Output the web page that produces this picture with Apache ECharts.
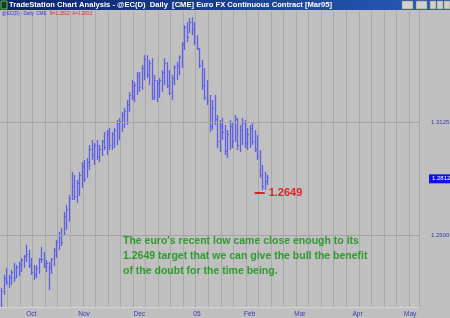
<!DOCTYPE html>
<html><head><meta charset="utf-8">
<script src="https://cdn.jsdelivr.net/npm/echarts@6/dist/echarts.min.js"></script>
<style>html,body{margin:0;padding:0;background:#c0c0c0}#c{width:450px;height:318px}</style>
</head><body><div id="c"></div><script>
// Daily bars of @EC (Mar05 Euro FX), Sep 15 2004 .. Feb 10 2005
const highs = [
1.2217,1.2286,1.2324,1.2286,1.2313,1.2351,1.2340,1.2356,1.2377,1.2393,
1.2447,1.2420,1.2377,1.2340,1.2340,1.2377,1.2436,1.2409,1.2367,1.2356,
1.2377,1.2431,1.2474,1.2516,1.2538,1.2623,1.2660,1.2714,1.2837,1.2821,
1.2794,1.2837,1.2890,1.2901,1.2911,1.2981,1.3008,1.2991,1.3008,1.2981,
1.3008,1.3050,1.3061,1.3072,1.3050,1.3072,1.3114,1.3125,1.3157,1.3178,
1.3221,1.3264,1.3328,1.3317,1.3371,1.3371,1.3408,1.3461,1.3461,1.3435,
1.3445,1.3355,1.3328,1.3339,1.3381,1.3445,1.3424,1.3381,1.3355,1.3408,
1.3424,1.3461,1.3531,1.3622,1.3638,1.3659,1.3664,1.3638,1.3568,1.3499,
1.3435,1.3392,1.3328,1.3248,1.3221,1.3248,1.3141,1.3114,1.3125,1.3088,
1.3061,1.3114,1.3104,1.3141,1.3125,1.3088,1.3125,1.3114,1.3072,1.3088,
1.3104,1.3061,1.3034,1.2954,1.2874,1.2837,1.2821];
const lows = [
1.2110,1.2180,1.2233,1.2217,1.2233,1.2249,1.2270,1.2281,1.2302,1.2324,
1.2356,1.2324,1.2286,1.2260,1.2270,1.2292,1.2351,1.2324,1.2302,1.2206,
1.2292,1.2334,1.2377,1.2420,1.2441,1.2495,1.2527,1.2570,1.2687,1.2687,
1.2671,1.2708,1.2751,1.2783,1.2805,1.2847,1.2901,1.2874,1.2901,1.2890,
1.2922,1.2954,1.2927,1.2954,1.2954,1.2965,1.2981,1.3008,1.3050,1.3072,
1.3088,1.3157,1.3221,1.3210,1.3248,1.3264,1.3275,1.3328,1.3339,1.3301,
1.3221,1.3221,1.3210,1.3232,1.3264,1.3301,1.3285,1.3248,1.3221,1.3301,
1.3328,1.3355,1.3392,1.3488,1.3531,1.3579,1.3568,1.3515,1.3488,1.3392,
1.3275,1.3221,1.3194,1.3050,1.3061,1.3088,1.2965,1.2943,1.3008,1.2927,
1.2911,1.2954,1.2965,1.2997,1.2954,1.2943,1.2981,1.2965,1.2954,1.2965,
1.2981,1.2943,1.2901,1.2805,1.2740,1.2740,1.2767];
const closes = [
1.2200,1.2270,1.2250,1.2275,1.2300,1.2270,1.2330,1.2340,1.2365,1.2385,
1.2400,1.2340,1.2300,1.2290,1.2325,1.2370,1.2370,1.2335,1.2350,1.2330,
1.2370,1.2420,1.2465,1.2500,1.2460,1.2600,1.2640,1.2700,1.2760,1.2710,
1.2780,1.2820,1.2870,1.2800,1.2890,1.2960,1.2930,1.2980,1.2920,1.2960,
1.3000,1.2970,1.3040,1.2980,1.3040,1.3060,1.3100,1.3110,1.3140,1.3160,
1.3200,1.3250,1.3240,1.3300,1.3350,1.3290,1.3390,1.3440,1.3360,1.3420,
1.3240,1.3330,1.3310,1.3330,1.3370,1.3420,1.3300,1.3260,1.3340,1.3400,
1.3410,1.3450,1.3520,1.3610,1.3560,1.3640,1.3600,1.3530,1.3500,1.3410,
1.3300,1.3240,1.3220,1.3080,1.3180,1.3120,1.3000,1.3080,1.3050,1.2950,
1.3040,1.3080,1.3000,1.3120,1.2980,1.3060,1.3100,1.2990,1.3040,1.3070,
1.3000,1.2960,1.2920,1.2820,1.2760,1.2790,1.2812];

const monthTickDates  = ['2004-10-01','2004-11-01','2004-12-01','2005-01-03','2005-02-01','2005-03-01','2005-04-01','2005-05-02'];
const monthTickLabels = ['Oct','Nov','Dec','05','Feb','Mar','Apr','May'];
const yTickValues = [1.3125, 1.2500];
const lastPrice = 1.2812;
const targetText = '1.2649';
const targetLineLevel = 1.2724;
const targetLineStart = '2005-02-03';
const targetLineEnd = '2005-02-09';
const axisMin = 1.2115, axisMax = 1.3697;

// trading-day categories (weekdays) from the first bar to the right edge of the chart
const categories = [];
for (let d = new Date(Date.UTC(2004, 8, 15)); d <= new Date(Date.UTC(2005, 4, 5)); d.setUTCDate(d.getUTCDate() + 1)) {
  const w = d.getUTCDay();
  if (w === 0 || w === 6) continue;
  categories.push(d.toISOString().slice(0, 10));
}
const barData = highs.map((h, i) => [i, h, lows[i], closes[i]]);
const barColor = '#5f5fe8';

const chart = echarts.init(document.getElementById('c'), null, {renderer: 'canvas'});
chart.setOption({
  backgroundColor: '#c0c0c0',
  animation: false,
  grid: {left: 0, right: 31, top: 11, bottom: 11, containLabel: false},
  xAxis: {
    type: 'category', data: categories, boundaryGap: true,
    axisLine: {show: true, lineStyle: {color: '#d6d6d6'}}, axisTick: {show: false},
    axisLabel: {
      interval: (i, v) => monthTickDates.indexOf(v) >= 0,
      formatter: v => monthTickLabels[monthTickDates.indexOf(v)] || '',
      color: '#3a3ab0', fontSize: 6.5, margin: 4, fontFamily: 'Arial'
    },
    splitLine: {show: true, interval: (i, v) => new Date(v + 'T00:00:00Z').getUTCDay() === 1,
      lineStyle: {color: '#a9a9a9', width: 1}}
  },
  yAxis: {
    type: 'value', position: 'right', min: axisMin, max: axisMax,
    axisLabel: {show: false}, axisTick: {show: false},
    axisLine: {show: true, lineStyle: {color: '#a9a9a9'}}, splitLine: {show: false}
  },
  series: [
    {
      type: 'custom', data: barData, encode: {x: 0, y: [1, 2]}, clip: true,
      renderItem: (params, api) => {
        const i = api.value(0);
        const hi = api.coord([i, api.value(1)]);
        const lo = api.coord([i, api.value(2)]);
        const cl = api.coord([i, api.value(3)]);
        const x = Math.round(hi[0]) + 0.5;
        const cy = Math.round(cl[1]) + 0.5;
        return {type: 'group', children: [
          {type: 'line', shape: {x1: x, y1: hi[1], x2: x, y2: lo[1]}, style: {stroke: barColor, lineWidth: 1.3}},
          {type: 'line', shape: {x1: x, y1: cy, x2: x + 1.6, y2: cy}, style: {stroke: barColor, lineWidth: 1}}
        ]};
      }
    },
    {
      type: 'line', data: [], silent: true,
      markLine: {
        silent: true, symbol: 'none', animation: false,
        data: yTickValues.map(v => ({
          yAxis: v,
          lineStyle: {color: '#a4a4a4', width: 1, type: 'solid'},
          label: {show: true, position: 'end', formatter: v.toFixed(4), color: '#3a3ab0', fontSize: 6, fontFamily: 'Arial', distance: 12}
        })).concat([{
          yAxis: lastPrice,
          lineStyle: {color: 'rgba(0,0,0,0)', width: 0},
          label: {show: true, position: 'end', formatter: lastPrice.toFixed(4), color: '#ffffff', fontSize: 6, fontFamily: 'Arial',
            backgroundColor: '#1010e8', padding: [2, 3, 1, 3], distance: 10}
        }])
      }
    },
    {
      type: 'line', data: [], silent: true,
      markLine: {
        silent: true, symbol: 'none', animation: false,
        data: [[
          {coord: [targetLineStart, targetLineLevel]},
          {coord: [targetLineEnd, targetLineLevel]}
        ]],
        lineStyle: {color: '#e02020', width: 2, type: 'solid'},
        label: {show: true, position: 'end', formatter: targetText, color: '#e02424', fontSize: 11, fontWeight: 'bold', fontFamily: 'Arial', distance: 4}
      }
    }
  ],
  graphic: [
    {type: 'rect', shape: {x: 0, y: 0, width: 450, height: 10}, z: 100,
      style: {fill: new echarts.graphic.LinearGradient(0, 0, 1, 0, [{offset: 0, color: '#0a246a'}, {offset: 1, color: '#2a5ab8'}])}},
    {type: 'rect', shape: {x: 1, y: 1, width: 6, height: 8}, z: 101, style: {fill: '#1a3a1a', stroke: '#60c060', lineWidth: 1}},
    {type: 'text', x: 9, y: 5, z: 101, style: {text: 'TradeStation Chart Analysis - @EC(D)  Daily  [CME] Euro FX Continuous Contract [Mar05]',
      fill: '#ffffff', font: 'bold 7.6px Arial', verticalAlign: 'middle'}},
    {type: 'rect', shape: {x: 402, y: 1, width: 11, height: 8}, z: 101, style: {fill: '#d4d0c8', stroke: '#808080', lineWidth: 0.5}},
    {type: 'rect', shape: {x: 416, y: 1, width: 11, height: 8}, z: 101, style: {fill: '#d4d0c8', stroke: '#808080', lineWidth: 0.5}},
    {type: 'rect', shape: {x: 430, y: 1, width: 6, height: 8}, z: 101, style: {fill: '#d4d0c8', stroke: '#808080', lineWidth: 0.5}},
    {type: 'rect', shape: {x: 437, y: 1, width: 6, height: 8}, z: 101, style: {fill: '#d4d0c8', stroke: '#808080', lineWidth: 0.5}},
    {type: 'rect', shape: {x: 444, y: 1, width: 6, height: 8}, z: 101, style: {fill: '#d4d0c8', stroke: '#808080', lineWidth: 0.5}},
    {type: 'text', x: 2, y: 14, z: 101, style: {
      text: '{b|@EC(D) - Daily  CME} {r|B=1.2812  A=1.2813}', verticalAlign: 'middle',
      rich: {b: {fill: '#3a3ab0', font: '4.6px Arial'}, r: {fill: '#e03030', font: '4.6px Arial'}}}},
    {type: 'text', x: 123, y: 241, z: 101, style: {text: "The euro's recent low came close enough to its", fill: '#2f9a2f', font: 'bold 10.5px Arial', verticalAlign: 'middle'}},
    {type: 'text', x: 123, y: 256, z: 101, style: {text: '1.2649 target that we can give the bull the benefit', fill: '#2f9a2f', font: 'bold 10.5px Arial', verticalAlign: 'middle'}},
    {type: 'text', x: 123, y: 271, z: 101, style: {text: 'of the doubt for the time being.', fill: '#2f9a2f', font: 'bold 10.5px Arial', verticalAlign: 'middle'}}
  ]
});
</script></body></html>
